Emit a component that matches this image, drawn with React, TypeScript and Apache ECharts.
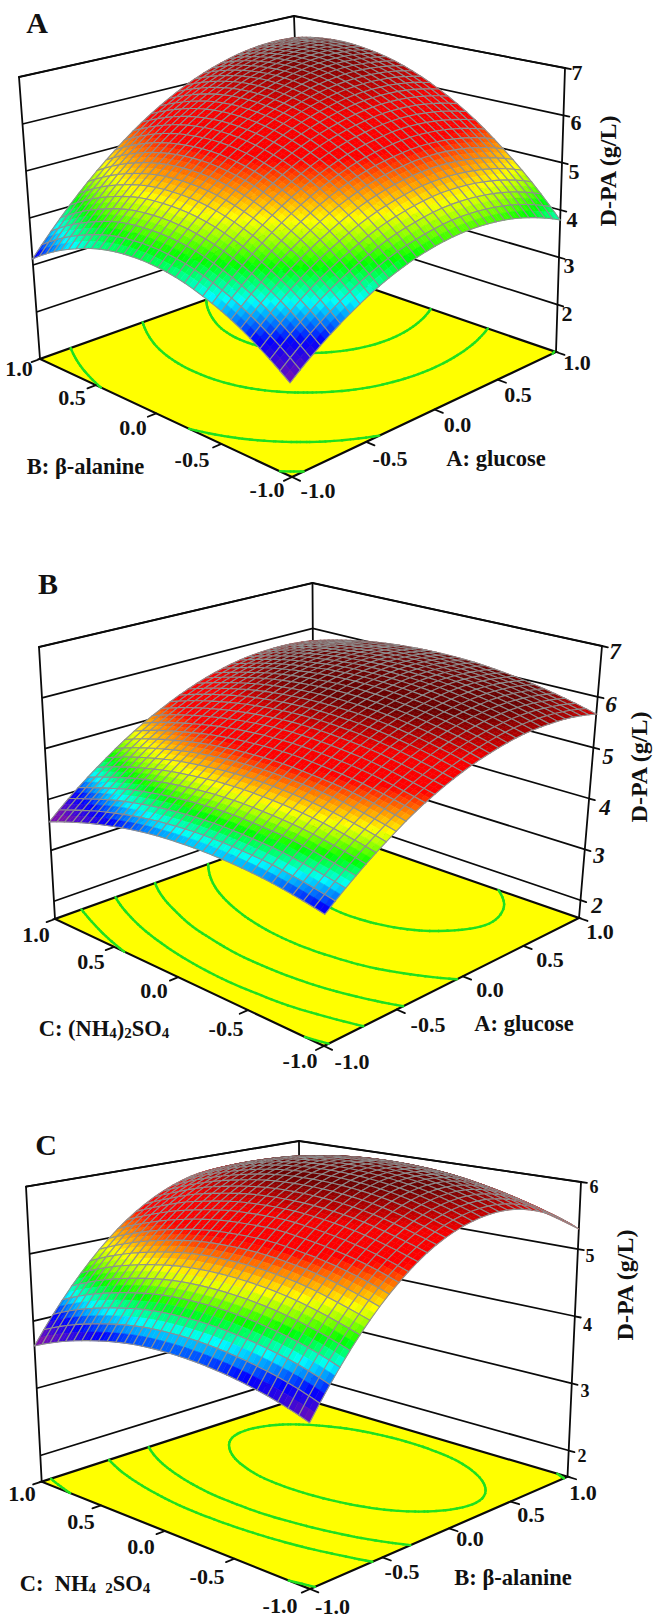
import React, { useEffect, useRef } from "react";
import * as echarts from "echarts";

// Response values (g/L) at the coded levels -1, -0.8 ... 1.
// Rows run along the first factor (front -> right edge), columns along the second (front -> left edge).
const surfaceA = [
  [2.72,3.13,3.46,3.70,3.87,3.95,3.95,3.87,3.70,3.46,3.13],
  [3.17,3.60,3.95,4.22,4.41,4.51,4.53,4.48,4.33,4.11,3.81],
  [3.54,4.00,4.37,4.66,4.87,5.00,5.04,5.01,4.89,4.69,4.41],
  [3.84,4.31,4.71,5.02,5.26,5.41,5.48,5.46,5.37,5.19,4.93],
  [4.06,4.56,4.98,5.31,5.57,5.74,5.83,5.84,5.77,5.61,5.38],
  [4.20,4.72,5.17,5.53,5.80,6.00,6.11,6.15,6.10,5.96,5.75],
  [4.27,4.82,5.28,5.66,5.96,6.18,6.32,6.38,6.35,6.24,6.05],
  [4.26,4.83,5.32,5.73,6.05,6.29,6.45,6.53,6.52,6.44,6.27],
  [4.18,4.77,5.28,5.71,6.06,6.32,6.51,6.61,6.62,6.56,6.42],
  [4.02,4.64,5.17,5.62,5.99,6.28,6.48,6.61,6.65,6.61,6.49],
  [3.79,4.43,4.98,5.46,5.85,6.16,6.39,6.53,6.60,6.58,6.48],
];
const surfaceB = [
  [3.93,4.04,4.12,4.16,4.17,4.15,4.10,4.01,3.89,3.74,3.56],
  [4.37,4.48,4.57,4.61,4.63,4.61,4.56,4.48,4.37,4.22,4.05],
  [4.75,4.87,4.96,5.01,5.03,5.02,4.97,4.90,4.79,4.65,4.47],
  [5.08,5.20,5.29,5.34,5.37,5.36,5.32,5.25,5.14,5.01,4.84],
  [5.34,5.46,5.56,5.62,5.65,5.65,5.61,5.54,5.44,5.31,5.14],
  [5.54,5.67,5.77,5.84,5.87,5.87,5.84,5.78,5.68,5.55,5.39],
  [5.68,5.82,5.92,5.99,6.03,6.04,6.01,5.95,5.86,5.73,5.58],
  [5.77,5.91,6.01,6.09,6.13,6.14,6.12,6.06,5.98,5.86,5.71],
  [5.79,5.94,6.05,6.13,6.17,6.19,6.17,6.12,6.04,5.92,5.77],
  [5.76,5.90,6.02,6.10,6.15,6.17,6.16,6.11,6.04,5.92,5.78],
  [5.66,5.81,5.93,6.02,6.08,6.10,6.09,6.05,5.98,5.87,5.73],
];
const surfaceC = [
  [3.72,3.86,3.96,4.03,4.07,4.08,4.06,4.00,3.91,3.79,3.63],
  [4.30,4.44,4.54,4.61,4.65,4.66,4.64,4.58,4.49,4.37,4.21],
  [4.79,4.92,5.03,5.10,5.14,5.15,5.13,5.07,4.98,4.86,4.70],
  [5.18,5.32,5.42,5.49,5.54,5.54,5.52,5.46,5.37,5.25,5.10],
  [5.48,5.61,5.72,5.79,5.83,5.84,5.82,5.76,5.68,5.55,5.40],
  [5.68,5.82,5.93,6.00,6.04,6.05,6.03,5.97,5.88,5.76,5.61],
  [5.79,5.93,6.04,6.11,6.15,6.16,6.14,6.09,6.00,5.88,5.73],
  [5.81,5.95,6.06,6.13,6.17,6.18,6.16,6.11,6.02,5.90,5.75],
  [5.73,5.87,5.98,6.06,6.10,6.11,6.09,6.03,5.95,5.83,5.68],
  [5.56,5.70,5.81,5.89,5.93,5.94,5.92,5.87,5.78,5.66,5.51],
  [5.30,5.44,5.55,5.63,5.67,5.68,5.66,5.61,5.52,5.40,5.25],
];

const contourLevelsA = [2.9, 3.83, 5.2, 6.05];
const contourLevelsB = [4, 4.5, 5, 5.5, 6];
const contourLevelsC = [3.82, 4.85, 5.35, 5.9];

const zTicksA = [2, 3, 4, 5, 6, 7];
const zTicksB = [2, 3, 4, 5, 6, 7];
const zTicksC = [2, 3, 4, 5, 6];

const floorTicks = [-1, -0.5, 0, 0.5, 1];
const floorTickLabels = ["-1.0", "-0.5", "0.0", "0.5", "1.0"];
const zTitle = "D-PA (g/L)";

type Pt = [number, number];
const SERIF = "'Liberation Serif', 'Times New Roman', serif";

const panels = [
  {
    table: surfaceA, levels: contourLevelsA, zTicks: zTicksA, zFloor: 1, zTop: 7, zMin: 2.72, zMax: 6.65,
    F: [292, 477] as Pt, R: [556, 352] as Pt, B: [303, 265] as Pt, L: [40, 359] as Pt,
    vF: [-7, -328] as Pt, vR: [9, -284] as Pt, vB: [-9, -249] as Pt, vL: [-21, -282] as Pt,
    letter: { t: "A", x: 37, y: 22 },
    zLabelPos: [[567, 313], [569, 265], [572, 219], [574, 171], [576, 122], [577, 72]],
    zFont: 22, zItalic: false,
    title: { x: 608, y: 171, size: 24 },
    leftLabels: [[267, 489], [192, 459], [133, 427], [72, 397], [19, 368]],
    rightLabels: [[318, 490], [390, 458], [457.5, 424], [518, 394], [577, 362]],
    axisTexts: [
      { rich: "{b|B: β-alanine}", x: 85.5, y: 465 },
      { rich: "{b|A: glucose}", x: 496, y: 457 },
    ],
  },
  {
    table: surfaceB, levels: contourLevelsB, zTicks: zTicksB, zFloor: 1.65, zTop: 7, zMin: 3.7, zMax: 5.95,
    F: [324, 1046] as Pt, R: [579, 918] as Pt, B: [314, 826] as Pt, L: [55, 919] as Pt,
    vF: [2, -309] as Pt, vR: [23, -272] as Pt, vB: [-1.5, -243] as Pt, vL: [-16, -272] as Pt,
    letter: { t: "B", x: 48, y: 583 },
    zLabelPos: [[597, 905], [599, 855], [605, 807], [608, 756], [611, 704], [615, 651]],
    zFont: 23, zItalic: true,
    title: { x: 639, y: 767, size: 24 },
    leftLabels: [[300, 1060], [226, 1028], [154, 990], [91, 961], [36, 934]],
    rightLabels: [[352, 1061], [428, 1024], [490, 989], [550, 959], [600, 931]],
    axisTexts: [
      { rich: "{b|C: (NH}{s|4}{b|)}{s|2}{b|SO}{s|4}", x: 104, y: 1027 },
      { rich: "{b|A: glucose}", x: 524, y: 1022 },
    ],
  },
  {
    table: surfaceC, levels: contourLevelsC, zTicks: zTicksC, zFloor: 1.61, zTop: 6, zMin: 3.72, zMax: 6.05,
    F: [310, 1589] as Pt, R: [567.5, 1476.7] as Pt, B: [300, 1398] as Pt, L: [41.7, 1481.7] as Pt,
    vF: [-1, -346] as Pt, vR: [13.5, -294.7] as Pt, vB: [-1, -257] as Pt, vL: [-15.7, -295] as Pt,
    letter: { t: "C", x: 46, y: 1144 },
    zLabelPos: [[582, 1456], [585, 1391], [587.5, 1325], [590, 1256], [594, 1187]],
    zFont: 18, zItalic: false,
    title: { x: 625, y: 1285, size: 24 },
    leftLabels: [[280, 1605], [207, 1576], [141, 1546], [81, 1521], [22, 1493]],
    rightLabels: [[332.5, 1606], [402, 1571], [470, 1538], [531, 1514], [583, 1492]],
    axisTexts: [
      { rich: "{b|C:  NH}{s|4 }{b| }{s|2}{b|SO}{s|4}", x: 85, y: 1582 },
      { rich: "{b|B: β-alanine}", x: 513, y: 1576 },
    ],
  },
];

const colorStops: [number, number[]][] = [
  [0, [122, 16, 176]],
  [0.13, [0, 0, 255]],
  [0.25, [0, 255, 255]],
  [0.36, [0, 255, 0]],
  [0.44, [150, 255, 0]],
  [0.51, [255, 255, 0]],
  [0.61, [255, 128, 0]],
  [0.7, [255, 0, 0]],
  [0.84, [245, 0, 0]],
  [1, [105, 0, 0]],
];

function colorAt(t: number) {
  const v = Math.max(0, Math.min(1, t));
  for (let k = 1; k < colorStops.length; k++) {
    if (v <= colorStops[k][0]) {
      const [t0, c0] = colorStops[k - 1];
      const [t1, c1] = colorStops[k];
      const f = (v - t0) / (t1 - t0);
      return `rgb(${Math.round(c0[0] + (c1[0] - c0[0]) * f)},${Math.round(c0[1] + (c1[1] - c0[1]) * f)},${Math.round(c0[2] + (c1[2] - c0[2]) * f)})`;
    }
  }
  return "rgb(105,0,0)";
}

function makeProjector(p: (typeof panels)[number]) {
  const [x0, y0] = p.F, [x1, y1] = p.R, [x2, y2] = p.B, [x3, y3] = p.L;
  const dx1 = x1 - x2, dx2 = x3 - x2, sx = x0 - x1 + x2 - x3;
  const dy1 = y1 - y2, dy2 = y3 - y2, sy = y0 - y1 + y2 - y3;
  const det = dx1 * dy2 - dx2 * dy1;
  const g = (sx * dy2 - dx2 * sy) / det;
  const h = (dx1 * sy - sx * dy1) / det;
  const A = x1 - x0 + g * x1, B = x3 - x0 + h * x3;
  const D = y1 - y0 + g * y1, E = y3 - y0 + h * y3;
  return (a: number, b: number, z: number): Pt => {
    const u = (a + 1) / 2, v = (b + 1) / 2;
    const w = g * u + h * v + 1;
    const fx = (A * u + B * v + x0) / w;
    const fy = (D * u + E * v + y0) / w;
    const fr = (z - p.zFloor) / (p.zTop - p.zFloor);
    const bil = (i: number) =>
      (1 - u) * (1 - v) * p.vF[i] + u * (1 - v) * p.vR[i] + u * v * p.vB[i] + (1 - u) * v * p.vL[i];
    return [fx + bil(0) * fr, fy + bil(1) * fr];
  };
}

// Smooth tessellation of a table for drawing: each table cell becomes `per` sub-cells.
function tessellate(table: number[][], per: number) {
  const n = table.length;
  const get = (i: number, j: number): number => {
    if (i < 0) return 3 * get(0, j) - 3 * get(1, j) + get(2, j);
    if (i >= n) return 3 * get(n - 1, j) - 3 * get(n - 2, j) + get(n - 3, j);
    if (j < 0) return 3 * get(i, 0) - 3 * get(i, 1) + get(i, 2);
    if (j >= n) return 3 * get(i, n - 1) - 3 * get(i, n - 2) + get(i, n - 3);
    return table[i][j];
  };
  const cr = (p0: number, p1: number, p2: number, p3: number, t: number) =>
    0.5 * (2 * p1 + (p2 - p0) * t + (2 * p0 - 5 * p1 + 4 * p2 - p3) * t * t + (3 * p1 - p0 - 3 * p2 + p3) * t * t * t);
  const size = (n - 1) * per + 1;
  const out: number[][] = [];
  for (let m = 0; m < size; m++) {
    const row: number[] = [];
    const fi = m / per;
    const i = Math.min(Math.floor(fi), n - 2);
    const ti = fi - i;
    for (let q = 0; q < size; q++) {
      const fj = q / per;
      const j = Math.min(Math.floor(fj), n - 2);
      const tj = fj - j;
      const vals = [-1, 0, 1, 2].map((d) =>
        cr(get(i + d, j - 1), get(i + d, j), get(i + d, j + 1), get(i + d, j + 2), tj)
      );
      row.push(cr(vals[0], vals[1], vals[2], vals[3], ti));
    }
    out.push(row);
  }
  return out;
}

const FILL_PER_TABLE_CELL = 6;
const FILL_PER_MESH_CELL = 2;
const MESH_PER_TABLE_CELL = FILL_PER_TABLE_CELL / FILL_PER_MESH_CELL;

function contourSegments(dense: number[][], level: number) {
  const segs: [Pt, Pt][] = [];
  const size = dense.length;
  const toAB = (m: number, q: number): Pt => [(m / (size - 1)) * 2 - 1, (q / (size - 1)) * 2 - 1];
  const cross = (m0: number, q0: number, m1: number, q1: number): Pt | null => {
    const z0 = dense[m0][q0], z1 = dense[m1][q1];
    if ((z0 < level) === (z1 < level)) return null;
    const f = (level - z0) / (z1 - z0);
    return toAB(m0 + (m1 - m0) * f, q0 + (q1 - q0) * f);
  };
  for (let m = 0; m + 1 < size; m++) {
    for (let q = 0; q + 1 < size; q++) {
      const pts = [
        cross(m, q, m + 1, q),
        cross(m + 1, q, m + 1, q + 1),
        cross(m + 1, q + 1, m, q + 1),
        cross(m, q + 1, m, q),
      ].filter(Boolean) as Pt[];
      if (pts.length === 2) segs.push([pts[0], pts[1]]);
      if (pts.length === 4) {
        segs.push([pts[0], pts[1]]);
        segs.push([pts[2], pts[3]]);
      }
    }
  }
  return segs;
}

const BLACK = "#0a0a0a";
const MESH = "#8f8f8f";

function buildOption() {
  const series: any[] = [];
  const graphic: any[] = [];

  panels.forEach((p) => {
    const proj = makeProjector(p);
    const dense = tessellate(p.table, FILL_PER_TABLE_CELL);
    const size = dense.length;
    const tableN = p.table.length;
    const base = { type: "custom", coordinateSystem: "cartesian2d", silent: true, progressive: 0, animation: false, clip: false };
    const toPx = (api: any, pt: Pt): number[] => api.coord(pt);
    const line = (api: any, a: Pt, b: Pt, w: number) => {
      const s = toPx(api, a), e = toPx(api, b);
      return {
        type: "line",
        shape: { x1: s[0], y1: s[1], x2: e[0], y2: e[1] },
        style: { stroke: BLACK, lineWidth: w, lineCap: "round" },
      };
    };

    // back walls: one polyline per z tick
    series.push({
      ...base,
      data: [...p.zTicks.map((z) => [z])],
      renderItem: (_: any, api: any) => {
        const z = api.value(0);
        const pts = [proj(-1, 1, z), proj(1, 1, z), proj(1, -1, z)].map((q) => toPx(api, q));
        return { type: "polyline", shape: { points: pts }, style: { fill: "none", stroke: BLACK, lineWidth: 1.7 } };
      },
    });
    // frame: top of the walls, verticals and floor
    series.push({
      ...base,
      data: [[p.zFloor, p.zTop]],
      renderItem: (_: any, api: any) => {
        const zb = api.value(0), zt = api.value(1);
        const floor = [proj(-1, -1, zb), proj(1, -1, zb), proj(1, 1, zb), proj(-1, 1, zb)].map((q) => toPx(api, q));
        return {
          type: "group",
          children: [
            { type: "polygon", shape: { points: floor }, style: { fill: "#ffff00", stroke: BLACK, lineWidth: 2.2 } },
            line(api, proj(-1, 1, zb), proj(-1, 1, zt), 1.8),
            line(api, proj(1, 1, zb), proj(1, 1, zt), 1.8),
            line(api, proj(1, -1, zb), proj(1, -1, zt), 1.8),
            line(api, proj(-1, 1, zt), proj(1, 1, zt), 1.8),
            line(api, proj(1, 1, zt), proj(1, -1, zt), 1.8),
          ],
        };
      },
    });
    // floor contours
    series.push({
      ...base,
      data: p.levels.map((l) => [l]),
      renderItem: (_: any, api: any) => {
        const level = api.value(0);
        const segs = contourSegments(dense, level);
        return {
          type: "group",
          children: segs.map(([s, e]) => {
            const a = toPx(api, proj(s[0], s[1], p.zFloor));
            const b = toPx(api, proj(e[0], e[1], p.zFloor));
            return {
              type: "line",
              shape: { x1: a[0], y1: a[1], x2: b[0], y2: b[1] },
              style: { stroke: "#1fe01f", lineWidth: 2.4, lineCap: "round" },
            };
          }),
        };
      },
    });
    // surface, painted from the back corner towards the front corner
    const rows: number[][] = [];
    for (let i = tableN - 1; i >= 0; i--) for (let j = tableN - 1; j >= 0; j--) rows.push([i, j, p.table[i][j]]);
    let px: number[][][] | null = null;
    const pixelGrid = (api: any) => {
      if (px) return px;
      px = [];
      for (let m = 0; m < size; m++) {
        const r: number[][] = [];
        for (let q = 0; q < size; q++) {
          r.push(toPx(api, proj((m / (size - 1)) * 2 - 1, (q / (size - 1)) * 2 - 1, dense[m][q])));
        }
        px.push(r);
      }
      return px;
    };
    const span = p.zMax - p.zMin;
    series.push({
      ...base,
      data: rows,
      renderItem: (_: any, api: any) => {
        const i = api.value(0), j = api.value(1);
        if (i >= tableN - 1 || j >= tableN - 1) return { type: "group", children: [] };
        const grid = pixelGrid(api);
        const children: any[] = [];
        for (let mi = MESH_PER_TABLE_CELL - 1; mi >= 0; mi--) {
          for (let mj = MESH_PER_TABLE_CELL - 1; mj >= 0; mj--) {
            const m0 = i * FILL_PER_TABLE_CELL + mi * FILL_PER_MESH_CELL;
            const q0 = j * FILL_PER_TABLE_CELL + mj * FILL_PER_MESH_CELL;
            for (let fm = FILL_PER_MESH_CELL - 1; fm >= 0; fm--) {
              for (let fq = FILL_PER_MESH_CELL - 1; fq >= 0; fq--) {
                const m = m0 + fm, q = q0 + fq;
                const zAvg = (dense[m][q] + dense[m + 1][q] + dense[m][q + 1] + dense[m + 1][q + 1]) / 4;
                const col = colorAt((zAvg - p.zMin) / span);
                children.push({
                  type: "polygon",
                  shape: { points: [grid[m][q], grid[m + 1][q], grid[m + 1][q + 1], grid[m][q + 1]] },
                  style: { fill: col, stroke: col, lineWidth: 0.6 },
                });
              }
            }
            const e = FILL_PER_MESH_CELL;
            children.push({
              type: "polygon",
              shape: { points: [grid[m0][q0], grid[m0 + e][q0], grid[m0 + e][q0 + e], grid[m0][q0 + e]] },
              style: { fill: "none", stroke: MESH, lineWidth: 1.1 },
            });
          }
        }
        return { type: "group", children };
      },
    });
    // axis ticks on the right vertical and on the two front floor edges
    series.push({
      ...base,
      data: p.zTicks.map((z) => [z]),
      renderItem: (_: any, api: any) => {
        const z = api.value(0);
        const a = proj(1, -1, z);
        const b = proj(1, 1, z);
        const d = Math.hypot(a[0] - b[0], a[1] - b[1]);
        const e: Pt = [a[0] + ((a[0] - b[0]) / d) * 6, a[1] + ((a[1] - b[1]) / d) * 6];
        return line(api, a, e, 1.8);
      },
    });
    series.push({
      ...base,
      data: floorTicks.map((t) => [t]),
      renderItem: (_: any, api: any) => {
        const t = api.value(0);
        const stub = (s: Pt, far: Pt) => {
          const d = Math.hypot(s[0] - far[0], s[1] - far[1]);
          return line(api, s, [s[0] + ((s[0] - far[0]) / d) * 9, s[1] + ((s[1] - far[1]) / d) * 9], 1.8);
        };
        return {
          type: "group",
          children: [
            stub(proj(-1, t, p.zFloor), proj(1, t, p.zFloor)),
            stub(proj(t, -1, p.zFloor), proj(t, 1, p.zFloor)),
          ],
        };
      },
    });

    // texts
    const txt = (text: string, x: number, y: number, size: number, extra: any = {}) => ({
      type: "text",
      x,
      y,
      silent: true,
      rotation: extra.rotation || 0,
      style: {
        text,
        fontFamily: SERIF,
        fontWeight: "bold",
        fontStyle: extra.italic ? "italic" : "normal",
        fontSize: size,
        fill: "#111",
        align: "center",
        verticalAlign: "middle",
      },
    });
    graphic.push(txt(p.letter.t, p.letter.x, p.letter.y, 30));
    p.zTicks.forEach((z, k) => {
      const [x, y] = p.zLabelPos[k];
      graphic.push(txt(String(z), x, y, p.zFont, { italic: p.zItalic }));
    });
    graphic.push(txt(zTitle, p.title.x, p.title.y, p.title.size, { rotation: Math.PI / 2 }));
    floorTickLabels.forEach((l, k) => {
      graphic.push(txt(l, p.leftLabels[k][0], p.leftLabels[k][1], 22));
      graphic.push(txt(l, p.rightLabels[k][0], p.rightLabels[k][1], 22));
    });
    p.axisTexts.forEach((t) => {
      graphic.push({
        type: "text",
        x: t.x,
        y: t.y,
        silent: true,
        style: {
          text: t.rich,
          align: "center",
          verticalAlign: "middle",
          rich: {
            b: { fontFamily: SERIF, fontWeight: "bold", fontSize: 22.5, fill: "#111", lineHeight: 26, verticalAlign: "bottom" },
            s: { fontFamily: SERIF, fontWeight: "bold", fontSize: 15, fill: "#111", lineHeight: 12, verticalAlign: "bottom" },
          },
        },
      });
    });
  });

  return {
    animation: false,
    backgroundColor: "#ffffff",
    grid: { left: 0, right: 0, top: 0, bottom: 0 },
    xAxis: { type: "value", min: 0, max: 653, show: false },
    yAxis: { type: "value", min: 0, max: 1618, inverse: true, show: false },
    series,
    graphic,
  };
}

export default function App() {
  const ref = useRef<HTMLDivElement>(null);
  useEffect(() => {
    document.body.style.margin = "0";
    const chart = echarts.init(ref.current!, undefined, { renderer: "svg" });
    chart.setOption(buildOption() as any);
    return () => chart.dispose();
  }, []);
  return <div ref={ref} style={{ width: 653, height: 1618 }} />;
}
